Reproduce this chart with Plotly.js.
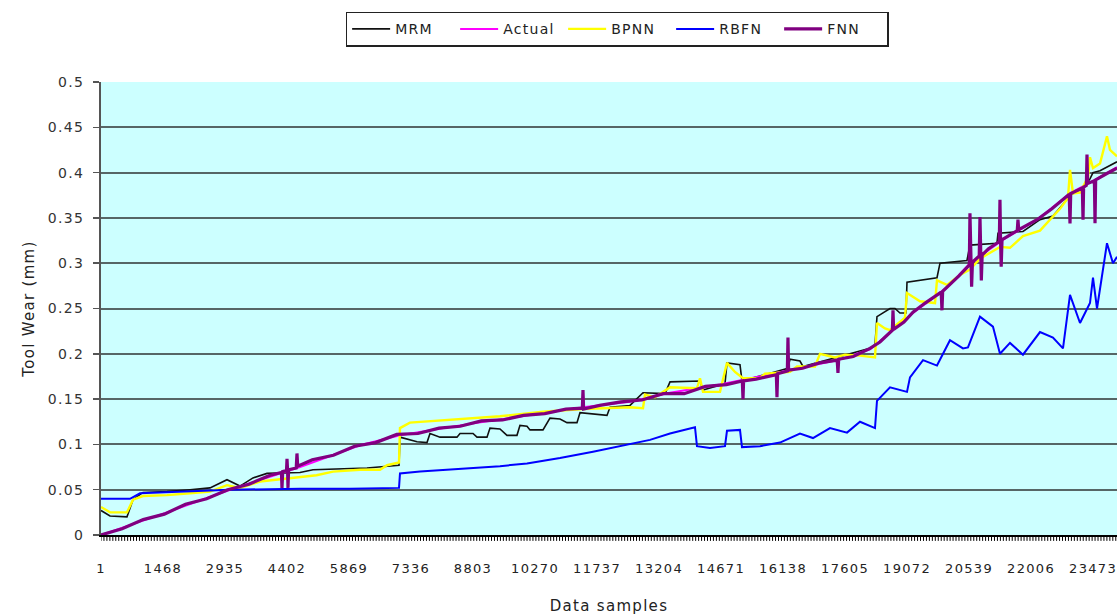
<!DOCTYPE html>
<html>
<head>
<meta charset="utf-8">
<script src="https://cdn.plot.ly/plotly-3.0.1.min.js"></script>
<style>
html, body { margin: 0; padding: 0; background: #fff; }
#chart { width: 1117px; height: 615px; }
.main-svg text { letter-spacing: 1.3px; }
</style>
</head>
<body>
<div id="chart"></div>
<script>
// x-axis category labels (data sample index): first label and spacing
const tickStart = 1;
const tickStep = 1467;
const minorTickStep = 70;
const xEnd = 24040;
const yTicks = [0, 0.05, 0.1, 0.15, 0.2, 0.25, 0.3, 0.35, 0.4, 0.45, 0.5];
const yTickText = ['0', '0.05', '0.1', '0.15', '0.2', '0.25', '0.3', '0.35', '0.4', '0.45', '0.5'];

// MRM
const mrmX = [1, 214, 616, 758, 995, 1563, 2107, 2580, 2982, 3290, 3597, 3929, 4709, 5017, 6295, 6910, 7052, 7075, 7478, 7714, 7785, 8022, 8424, 8495, 8803, 8897, 9134, 9205, 9441, 9607, 9843, 9914, 10080, 10151, 10459, 10624, 10861, 11027, 11263, 11334, 11973, 12044, 12517, 12825, 13346, 13464, 14173, 14244, 14765, 14812, 15120, 15167, 16255, 16302, 16539, 16610, 18196, 18314, 18361, 18669, 18787, 18905, 19047, 19071, 19781, 19852, 20490, 20561, 21200, 21224, 21815, 22218, 22525, 22762, 22928, 23236, 23401, 23472, 23638, 24040];
const mrmY = [0.027, 0.021, 0.020, 0.039, 0.047, 0.048, 0.050, 0.052, 0.061, 0.054, 0.063, 0.068, 0.069, 0.072, 0.074, 0.077, 0.077, 0.108, 0.103, 0.102, 0.112, 0.108, 0.108, 0.112, 0.112, 0.108, 0.108, 0.118, 0.117, 0.110, 0.110, 0.121, 0.120, 0.116, 0.116, 0.129, 0.128, 0.124, 0.124, 0.135, 0.132, 0.141, 0.143, 0.157, 0.156, 0.169, 0.170, 0.160, 0.167, 0.190, 0.188, 0.170, 0.184, 0.194, 0.192, 0.186, 0.206, 0.210, 0.241, 0.250, 0.250, 0.245, 0.245, 0.279, 0.284, 0.300, 0.303, 0.320, 0.322, 0.333, 0.335, 0.348, 0.352, 0.365, 0.375, 0.383, 0.393, 0.400, 0.402, 0.412];

// Actual
const actualX = [1, 1560, 3124, 4709, 6129, 7075, 8495, 10080, 11405, 12517, 13464, 14647, 16255, 17438, 18196, 18432, 19213, 20017, 20561, 21350, 22147, 22928, 23710, 24040];
const actualY = [0, 0.025, 0.051, 0.075, 0.099, 0.110, 0.121, 0.132, 0.141, 0.147, 0.157, 0.166, 0.182, 0.193, 0.205, 0.214, 0.245, 0.273, 0.300, 0.326, 0.348, 0.377, 0.397, 0.406];

// BPNN
const bpnnX = [1, 214, 616, 758, 995, 1563, 2107, 2580, 2982, 3290, 3763, 4118, 4709, 5100, 5490, 6129, 6602, 6768, 7052, 7075, 7310, 8258, 9441, 10459, 11405, 12517, 12825, 12872, 13109, 13464, 14102, 14173, 14244, 14647, 14812, 15001, 15191, 15593, 15710, 16302, 16468, 16894, 17012, 17368, 17604, 17959, 18196, 18314, 18361, 18550, 18669, 19023, 19071, 19379, 19734, 19781, 20017, 20325, 20561, 20798, 21271, 21508, 21815, 22218, 22691, 22880, 22928, 22999, 23165, 23354, 23401, 23472, 23638, 23803, 23874, 24040];
const bpnnY = [0.031, 0.025, 0.025, 0.039, 0.043, 0.044, 0.046, 0.048, 0.055, 0.052, 0.059, 0.061, 0.064, 0.066, 0.070, 0.072, 0.072, 0.077, 0.080, 0.118, 0.124, 0.127, 0.131, 0.136, 0.139, 0.141, 0.140, 0.155, 0.152, 0.163, 0.162, 0.173, 0.158, 0.158, 0.190, 0.180, 0.173, 0.173, 0.178, 0.180, 0.186, 0.186, 0.200, 0.196, 0.199, 0.198, 0.197, 0.196, 0.234, 0.228, 0.226, 0.240, 0.267, 0.258, 0.256, 0.281, 0.276, 0.287, 0.293, 0.305, 0.318, 0.317, 0.330, 0.336, 0.360, 0.372, 0.403, 0.377, 0.378, 0.395, 0.417, 0.405, 0.410, 0.440, 0.425, 0.418];

// RBFN
const rbfnX = [1, 687, 924, 1397, 2580, 3053, 4709, 5892, 7052, 7075, 7550, 8258, 8968, 9441, 10080, 10861, 11642, 12044, 12517, 12990, 13464, 13937, 14055, 14102, 14410, 14765, 14812, 15120, 15167, 15593, 16066, 16539, 16847, 17249, 17652, 17959, 18314, 18361, 18669, 19071, 19142, 19450, 19781, 20088, 20396, 20514, 20798, 21105, 21271, 21508, 21815, 22218, 22525, 22762, 22928, 23165, 23401, 23472, 23567, 23803, 23945, 24040];
const rbfnY = [0.040, 0.040, 0.046, 0.047, 0.049, 0.050, 0.051, 0.051, 0.052, 0.068, 0.070, 0.072, 0.074, 0.076, 0.079, 0.085, 0.092, 0.096, 0.100, 0.105, 0.112, 0.118, 0.119, 0.098, 0.096, 0.098, 0.115, 0.116, 0.097, 0.098, 0.102, 0.112, 0.107, 0.118, 0.113, 0.125, 0.118, 0.148, 0.163, 0.158, 0.174, 0.193, 0.187, 0.215, 0.206, 0.207, 0.241, 0.230, 0.200, 0.212, 0.199, 0.224, 0.218, 0.206, 0.265, 0.234, 0.256, 0.284, 0.250, 0.322, 0.300, 0.307];

// FNN
const fnnX = [1, 500, 1000, 1500, 2000, 2500, 3000, 3500, 4000, 4270, 4283, 4300, 4390, 4402, 4415, 4425, 4440, 4620, 4638, 4655, 5000, 5500, 6000, 6500, 7000, 7500, 8000, 8500, 9000, 9500, 10000, 10500, 11000, 11390, 11405, 11420, 11800, 12300, 12800, 13300, 13800, 14300, 14800, 15175, 15191, 15205, 15500, 15980, 15995, 16010, 16240, 16255, 16270, 16600, 17000, 17420, 17438, 17455, 17800, 18196, 18432, 18700, 18725, 18740, 18755, 19000, 19213, 19500, 19880, 19899, 19915, 20300, 20545, 20561, 20580, 20600, 20620, 20780, 20798, 20815, 20830, 20850, 21000, 21255, 21271, 21285, 21300, 21320, 21680, 21697, 21715, 22147, 22500, 22910, 22928, 22945, 23220, 23236, 23250, 23315, 23330, 23345, 23505, 23520, 23535, 23800, 24040];
const fnnY = [0.000, 0.007, 0.017, 0.023, 0.034, 0.040, 0.050, 0.056, 0.066, 0.069, 0.052, 0.070, 0.071, 0.084, 0.072, 0.052, 0.072, 0.074, 0.090, 0.076, 0.083, 0.088, 0.098, 0.102, 0.111, 0.112, 0.118, 0.120, 0.126, 0.127, 0.132, 0.134, 0.139, 0.140, 0.160, 0.139, 0.143, 0.147, 0.149, 0.156, 0.156, 0.164, 0.166, 0.170, 0.150, 0.170, 0.172, 0.177, 0.152, 0.178, 0.181, 0.218, 0.182, 0.184, 0.190, 0.193, 0.179, 0.194, 0.197, 0.206, 0.213, 0.225, 0.226, 0.248, 0.227, 0.235, 0.246, 0.256, 0.268, 0.248, 0.269, 0.286, 0.298, 0.355, 0.300, 0.274, 0.301, 0.308, 0.351, 0.309, 0.281, 0.309, 0.316, 0.324, 0.370, 0.325, 0.296, 0.326, 0.336, 0.348, 0.337, 0.348, 0.360, 0.376, 0.344, 0.377, 0.383, 0.348, 0.384, 0.386, 0.420, 0.388, 0.391, 0.344, 0.392, 0.399, 0.405];

const FONT = 'DejaVu Sans, Liberation Sans, Arial, sans-serif';

const traces = [
  {name: 'MRM', x: mrmX, y: mrmY, type: 'scatter', mode: 'lines', line: {color: '#111111', width: 1.6}},
  {name: 'Actual', x: actualX, y: actualY, type: 'scatter', mode: 'lines', line: {color: '#FF00FF', width: 2}},
  {name: 'BPNN', x: bpnnX, y: bpnnY, type: 'scatter', mode: 'lines', line: {color: '#FFFF00', width: 2.4}},
  {name: 'RBFN', x: rbfnX, y: rbfnY, type: 'scatter', mode: 'lines', line: {color: '#0000FF', width: 2}},
  {name: 'FNN', x: fnnX, y: fnnY, type: 'scatter', mode: 'lines', line: {color: '#800080', width: 3.2}}
];

// dense category tick marks below the x axis (Excel draws one per category group)
let tickPath = '';
for (let s = tickStart; s <= xEnd; s += minorTickStep) {
  tickPath += 'M' + s + ',-0.001V-0.013';
}

const layout = {
  width: 1117,
  height: 615,
  margin: {l: 101, r: 0, t: 82, b: 80},
  paper_bgcolor: '#FFFFFF',
  plot_bgcolor: '#CCFFFF',
  font: {family: FONT, size: 14, color: '#222222'},
  showlegend: true,
  legend: {
    orientation: 'h',
    x: 0.508, xanchor: 'center',
    y: 1.155, yanchor: 'top',
    bgcolor: '#FFFFFF',
    bordercolor: '#222222',
    borderwidth: 1.5,
    font: {family: FONT, size: 14, color: '#222222'},
    itemwidth: 38,
    entrywidth: 55,
    entrywidthmode: 'pixels',
    traceorder: 'normal'
  },
  shapes: [
    {type: 'path', xref: 'x', yref: 'paper', path: tickPath, line: {color: '#000000', width: 1}, layer: 'above'}
  ],
  xaxis: {
    type: 'linear',
    range: [tickStart, xEnd],
    tickmode: 'linear',
    tick0: tickStart,
    dtick: tickStep,
    tickformat: 'd',
    ticks: 'outside',
    ticklen: 20,
    tickwidth: 1,
    tickcolor: 'rgba(0,0,0,0)',
    showgrid: false,
    zeroline: false,
    showline: true,
    linecolor: '#000000',
    linewidth: 2,
    tickfont: {family: FONT, size: 13, color: '#222222'},
    title: {text: 'Data samples', font: {family: FONT, size: 15, color: '#222222'}, standoff: 28},
    automargin: false,
    fixedrange: true
  },
  yaxis: {
    range: [0, 0.5],
    tickmode: 'array',
    tickvals: yTicks,
    ticktext: yTickText,
    ticks: 'outside',
    ticklen: 6,
    tickcolor: '#555555',
    tickwidth: 1.5,
    ticklabelstandoff: 6,
    showgrid: true,
    gridcolor: '#566666',
    gridwidth: 2,
    zeroline: false,
    showline: true,
    linecolor: '#555555',
    linewidth: 2,
    tickfont: {family: FONT, size: 14, color: '#333333'},
    title: {text: 'Tool Wear (mm)', font: {family: FONT, size: 15, color: '#222222'}, standoff: 15},
    automargin: false,
    fixedrange: true
  }
};

Plotly.newPlot('chart', traces, layout, {displayModeBar: false, staticPlot: true});
</script>
</body>
</html>
